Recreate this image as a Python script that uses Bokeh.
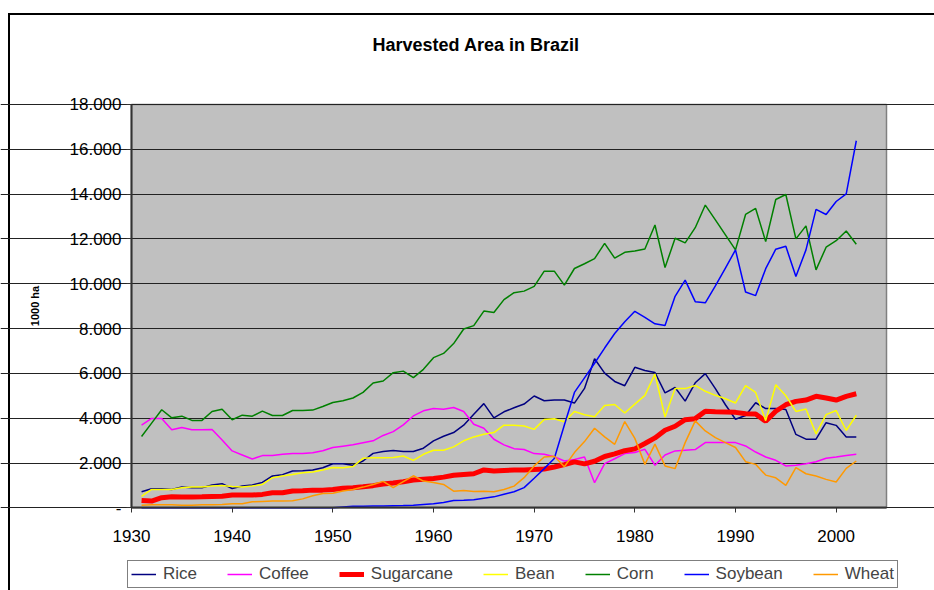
from bokeh.plotting import figure
from bokeh.models import Legend, LegendItem, FixedTicker, Range1d
from bokeh.embed import file_html
from bokeh.resources import INLINE

years = list(range(1931, 2003))

rice = [720, 850, 850, 820, 925, 895, 895, 1015, 1075, 865,
        970, 1015, 1135, 1420, 1480, 1640, 1655, 1690, 1790, 1970,
        1970, 1900, 2090, 2430, 2510, 2560, 2510, 2510, 2660, 2985,
        3195, 3360, 3690, 4180, 4650, 4015, 4285, 4465, 4630, 4990,
        4780, 4815, 4810, 4675, 5330, 6650, 6010, 5640, 5450, 6270,
        6130, 6040, 5130, 5370, 4760, 5580, 5990, 5320, 4600, 3955,
        4120, 4690, 4430, 4430, 4390, 3275, 3065, 3065, 3800, 3680,
        3160, 3160]

coffee = [3690, 3990, 3990, 3480, 3580, 3480, 3480, 3495, 3030, 2540,
          2360, 2180, 2330, 2330, 2390, 2420, 2420, 2460, 2550, 2690,
          2750, 2810, 2900, 2990, 3230, 3400, 3700, 4100, 4330, 4430,
          4400, 4480, 4300, 3730, 3550, 3060, 2810, 2640, 2600, 2420,
          2390, 2280, 2090, 2160, 2270, 1120, 1970, 2190, 2420, 2470,
          2610, 1900, 2360, 2540, 2570, 2600, 2910, 2910, 2910, 2910,
          2760, 2490, 2270, 2120, 1870, 1900, 1970, 2060, 2210, 2270,
          2340, 2390]

sugarcane = [330, 300, 450, 490, 480, 480, 490, 510, 520, 570,
             570, 570, 600, 670, 670, 750, 760, 790, 790, 820,
             870, 900, 940, 990, 1060, 1110, 1165, 1240, 1280, 1310,
             1370, 1450, 1490, 1520, 1690, 1640, 1670, 1690, 1690, 1715,
             1730, 1820, 1930, 2050, 1960, 2080, 2290, 2405, 2550, 2630,
             2870, 3120, 3460, 3640, 3935, 3980, 4310, 4290, 4280, 4260,
             4200, 4190, 3860, 4310, 4600, 4750, 4810, 4975, 4900, 4810,
             4975, 5090]

bean = [510, 820, 820, 820, 900, 925, 925, 970, 1000, 955,
        925, 970, 1045, 1345, 1420, 1490, 1570, 1600, 1690, 1800,
        1790, 1840, 2210, 2240, 2230, 2250, 2310, 2120, 2390, 2570,
        2570, 2720, 2990, 3165, 3285, 3360, 3690, 3680, 3650, 3500,
        3940, 3975, 3840, 4300, 4150, 4060, 4570, 4610, 4230, 4630,
        5020, 5970, 4050, 5320, 5320, 5460, 5200, 5020, 4870, 4680,
        5450, 5150, 3890, 5490, 5000, 4300, 4410, 3300, 4160, 4340,
        3450, 4130]

corn = [3180, 3780, 4375, 4015, 4090, 3900, 3900, 4300, 4400, 3930,
        4135, 4090, 4315, 4120, 4120, 4345, 4345, 4360, 4520, 4700,
        4780, 4900, 5150, 5570, 5660, 6030, 6100, 5810, 6180, 6700,
        6890, 7330, 7980, 8130, 8780, 8720, 9290, 9600, 9670, 9880,
        10560, 10560, 9940, 10680, 10890, 11120, 11800, 11140, 11400, 11460,
        11550, 12620, 10720, 12030, 11820, 12500, 13510, 12850, 12180, 11510,
        13090, 13360, 11880, 13760, 13980, 12000, 12580, 10620, 11630, 11920,
        12350, 11760]

soybean = [0, 0, 0, 0, 0, 0, 0, 0, 0, 0,
           0, 0, 0, 0, 0, 0, 0, 0, 0, 0,
           40, 75, 75, 80, 80, 90, 100, 120, 150, 180,
           240, 330, 340, 360, 430, 490, 610, 720, 900, 1320,
           1750, 2200, 3700, 5150, 5800, 6450, 7130, 7780, 8300, 8770,
           8500, 8210, 8140, 9440, 10160, 9200, 9150, 9900, 10700, 11510,
           9630, 9470, 10670, 11540, 11670, 10320, 11510, 13320, 13090, 13670,
           14010, 16380]

wheat = [120, 135, 135, 135, 120, 120, 135, 135, 150, 180,
         180, 270, 285, 300, 300, 315, 400, 540, 640, 655,
         750, 820, 925, 1045, 1180, 900, 1165, 1430, 1195, 1135,
         1045, 745, 775, 730, 745, 715, 820, 970, 1345, 1870,
         2270, 2300, 1835, 2465, 2955, 3550, 3165, 2835, 3850, 3100,
         1940, 2840, 1870, 1750, 2910, 3880, 3430, 3135, 2910, 2690,
         2060, 1940, 1460, 1340, 1000, 1790, 1520, 1420, 1270, 1150,
         1760, 2090]

series_names = ["Rice", "Coffee", "Sugarcane", "Bean", "Corn", "Soybean", "Wheat"]
series_values = [rice, coffee, sugarcane, bean, corn, soybean, wheat]
series_colors = ["#000080", "#FF00FF", "#FF0000", "#FFFF00", "#008000", "#0000FF", "#FF9900"]
series_widths = [1.5, 1.5, 5, 1.5, 1.5, 1.5, 1.5]

y_ticks = [0, 2000, 4000, 6000, 8000, 10000, 12000, 14000, 16000, 18000]
y_labels = ["-", "2.000", "4.000", "6.000", "8.000", "10.000", "12.000", "14.000", "16.000", "18.000"]
x_ticks = [1930, 1940, 1950, 1960, 1970, 1980, 1990, 2000]
x_extent = (1930, 2005)
y_extent = (0, 18000)

FONT = "Liberation Sans"

# page geometry (pixels): plot area spans x 131..886, y 102..507
W, H = 934, 590
PA_L, PA_R, PA_T, PA_B = 131, 886, 102, 507
FRAME_T = 88
px_x = (PA_R - PA_L) / (x_extent[1] - x_extent[0])
px_y = (PA_B - PA_T) / (y_extent[1] - y_extent[0])
x_rng = Range1d(x_extent[0] - PA_L / px_x, x_extent[1] + (W - PA_R) / px_x)
y_rng = Range1d(y_extent[0] - (H - PA_B) / px_y, y_extent[1] + (PA_T - FRAME_T) / px_y)

p = figure(width=W, height=H, output_backend="svg", toolbar_location=None,
           x_range=x_rng, y_range=y_rng,
           min_border_left=0, min_border_right=0, min_border_top=FRAME_T, min_border_bottom=0,
           styles={"background-color": "white",
                   "box-shadow": "inset 8px 13px 0 0 white, inset 10px 15px 0 0 black"})
p.border_fill_alpha = 0
p.background_fill_alpha = 0
p.outline_line_color = None

# plot area background
p.quad(left=[x_extent[0]], right=[x_extent[1]], bottom=[y_extent[0]], top=[y_extent[1]],
       fill_color="#C0C0C0", line_color="#808080", line_width=1.5, level="image")

p.title.text = "Harvested Area in Brazil"
p.title.align = "left"
p.title.vertical_align = "top"
p.title.offset = 372
p.title.standoff = 68
p.title.text_font = FONT
p.title.text_font_size = "18px"
p.title.text_font_style = "bold"
p.title.text_color = "black"

p.xgrid.visible = False
p.ygrid.grid_line_color = "#222222"
p.ygrid.grid_line_width = 1
p.ygrid.ticker = FixedTicker(ticks=y_ticks)
p.ygrid.bounds = x_extent

p.xaxis.fixed_location = y_extent[0]
p.yaxis.fixed_location = x_extent[0]
p.xaxis.bounds = x_extent
p.yaxis.bounds = y_extent
p.yaxis.ticker = FixedTicker(ticks=y_ticks)
p.yaxis.major_label_overrides = {t: l for t, l in zip(y_ticks, y_labels)}
p.xaxis.ticker = FixedTicker(ticks=x_ticks)
p.xaxis.major_label_overrides = {t: str(t) for t in x_ticks}

for ax in (p.xaxis[0], p.yaxis[0]):
    ax.axis_line_color = "#333333"
    ax.axis_line_width = 2
    ax.major_tick_line_color = "#333333"
    ax.major_tick_in = 0
    ax.major_tick_out = 5
    ax.minor_tick_line_color = None
    ax.major_label_text_font = FONT
    ax.major_label_text_font_size = "17px"
    ax.major_label_text_color = "black"

p.xaxis.major_label_standoff = 17
p.yaxis.major_label_standoff = 5
p.yaxis.axis_label = "1000 ha"
p.yaxis.axis_label_text_font = FONT
p.yaxis.axis_label_text_font_size = "11px"
p.yaxis.axis_label_text_font_style = "bold"
p.yaxis.axis_label_text_color = "black"
p.yaxis.axis_label_standoff = 26

items = []
for name, vals, col, w in zip(series_names, series_values, series_colors, series_widths):
    r = p.line(years, vals, line_color=col, line_width=w)
    items.append(LegendItem(label=name, renderers=[r]))

legend = Legend(items=items, orientation="horizontal", location=(127, 2),
                border_line_color="black", border_line_width=1,
                background_fill_color="white", background_fill_alpha=1,
                label_text_font=FONT, label_text_font_size="17px",
                glyph_width=25, glyph_height=14, label_standoff=7,
                spacing=30, padding=3, margin=0)
p.add_layout(legend, "center")

open("out.html", "w").write(file_html(p, INLINE))
